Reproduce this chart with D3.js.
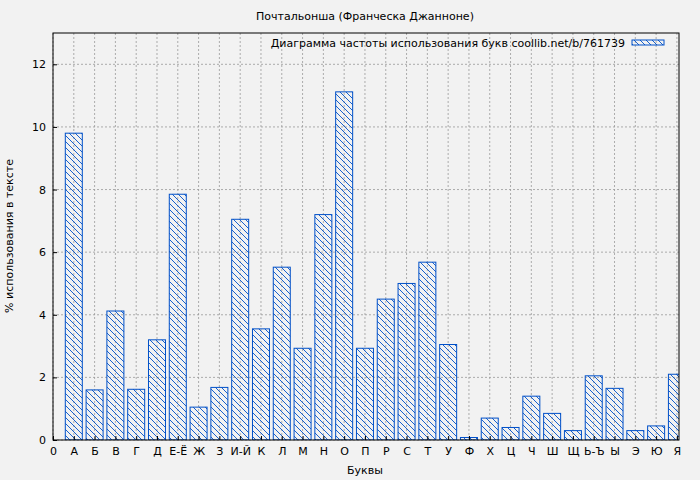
<!DOCTYPE html>
<html><head><meta charset="utf-8">
<script src="https://cdn.jsdelivr.net/npm/d3@7"></script>
<style>body{margin:0;background:#f2f2f2;font-family:"DejaVu Sans",sans-serif;}</style>
</head><body><div id="chart"></div>
<script>
var letters = ['А','Б','В','Г','Д','Е-Ё','Ж','З','И-Й','К','Л','М','Н','О','П','Р','С','Т','У','Ф','Х','Ц','Ч','Ш','Щ','Ь-Ъ','Ы','Э','Ю','Я'];
var values = [9.8,1.6,4.12,1.62,3.2,7.85,1.05,1.68,7.05,3.55,5.52,2.93,7.2,11.12,2.93,4.5,5.0,5.68,3.05,0.08,0.7,0.4,1.4,0.85,0.3,2.05,1.65,0.3,0.45,2.1];
var yTicks = [0,2,4,6,8,10,12];

var W = 700, H = 480;
var margin = {left: 53, right: 21, top: 33, bottom: 40};
var w = W - margin.left - margin.right, h = H - margin.top - margin.bottom;

var svg = d3.select('#chart').append('svg').attr('width', W).attr('height', H);
svg.append('rect').attr('width', W).attr('height', H).attr('fill', '#f2f2f2');

var defs = svg.append('defs');
defs.append('pattern').attr('id', 'hatch').attr('patternUnits', 'userSpaceOnUse')
    .attr('width', 6).attr('height', 6)
    .append('path').attr('d', 'M-1,-1 L7,7 M-1,5 L1,7 M5,-1 L7,1')
    .attr('stroke', '#0050c8').attr('stroke-width', 0.9);

var g = svg.append('g').attr('transform', 'translate(' + margin.left + ',' + margin.top + ')');

var x = d3.scaleLinear().domain([0, 30.1]).range([0, w]);
var y = d3.scaleLinear().domain([0, 13]).range([h, 0]);

// grid
g.selectAll('.gx').data(d3.range(0, 31)).enter().append('line')
    .attr('x1', function (d) { return x(d); }).attr('x2', function (d) { return x(d); })
    .attr('y1', 0).attr('y2', h)
    .attr('stroke', '#999').attr('stroke-dasharray', '2,2').attr('stroke-width', 0.8);
g.selectAll('.gy').data(yTicks).enter().append('line')
    .attr('x1', 0).attr('x2', w)
    .attr('y1', function (d) { return y(d); }).attr('y2', function (d) { return y(d); })
    .attr('stroke', '#999').attr('stroke-dasharray', '2,2').attr('stroke-width', 0.8);

var bw = 17;
g.append('clipPath').attr('id', 'clip').append('rect').attr('width', w).attr('height', h);
g.append('g').attr('clip-path', 'url(#clip)').selectAll('rect.bar').data(values).enter().append('rect')
    .attr('x', function (d, i) { return x(i + 1) - bw / 2; })
    .attr('y', function (d) { return y(d); })
    .attr('width', bw)
    .attr('height', function (d) { return h - y(d); })
    .attr('fill', 'url(#hatch)').attr('stroke', '#0050c8').attr('stroke-width', 1);

g.append('rect').attr('width', w).attr('height', h).attr('fill', 'none').attr('stroke', '#000');

var xa = g.append('g').attr('transform', 'translate(0,' + h + ')')
    .call(d3.axisBottom(x).tickValues(d3.range(0, 31)).tickSize(-4).tickPadding(7)
        .tickFormat(function (d) { return d === 0 ? '0' : letters[d - 1]; }));
var ya = g.append('g')
    .call(d3.axisLeft(y).tickValues(yTicks).tickSize(-4).tickPadding(7));
[xa, ya].forEach(function (a) {
    a.select('.domain').remove();
    a.selectAll('text').attr('font-size', 11).attr('fill', '#000').attr('font-family', 'DejaVu Sans');
});

svg.append('text').attr('x', 365).attr('y', 20).attr('text-anchor', 'middle')
    .attr('font-size', 11).text('Почтальонша  (Франческа Джанноне)');
svg.append('text').attr('x', 365).attr('y', 474).attr('text-anchor', 'middle')
    .attr('font-size', 11).text('Буквы');
svg.append('text').attr('transform', 'translate(13,236) rotate(-90)').attr('text-anchor', 'middle')
    .attr('font-size', 11).text('% использования в тексте');

svg.append('text').attr('x', 625).attr('y', 47).attr('text-anchor', 'end')
    .attr('font-size', 11).text('Диаграмма частоты использования букв coollib.net/b/761739');
svg.append('rect').attr('x', 632).attr('y', 40).attr('width', 32).attr('height', 5)
    .attr('fill', 'url(#hatch)').attr('stroke', '#0050c8');
</script></body></html>
